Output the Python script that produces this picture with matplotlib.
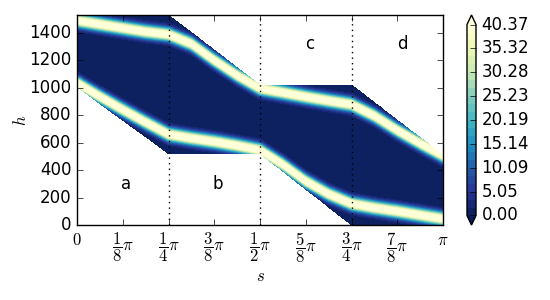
import numpy as np
import matplotlib
matplotlib.use("Agg")
import matplotlib.pyplot as plt

plt.style.use("classic")
plt.rcParams["figure.facecolor"] = "white"
plt.rcParams["savefig.facecolor"] = "white"

# segment corners (s in units of pi)
s_edge = [0, 0.25, 0.5, 0.75, 1.0]
h_low = [1005, 520, 520, 0, 0]
h_up = [1530, 1530, 1020, 1020, 510]

# band centre lines, s in units of pi/16
s_band = np.arange(17) / 16.0
band_up = [1490, 1462, 1435, 1408, 1388, 1320, 1200, 1090, 995,
           965, 934, 905, 878, 795, 690, 595, 505]
band_low = [1035, 935, 840, 748, 660, 632, 607, 578, 545,
            440, 319, 225, 155, 125, 100, 72, 45]
vmax = 40.371
amp = 45
width = 32

region_labels = ["a", "b", "c", "d"]
label_pos = [(0.134, 300), (0.385, 300), (0.637, 1320), (0.89, 1320)]

xticks = np.arange(9) / 8.0
xticklabels = [r"$0$", r"$\dfrac{1}{8}\pi$", r"$\dfrac{1}{4}\pi$", r"$\dfrac{3}{8}\pi$",
               r"$\dfrac{1}{2}\pi$", r"$\dfrac{5}{8}\pi$", r"$\dfrac{3}{4}\pi$",
               r"$\dfrac{7}{8}\pi$", r"$\pi$"]

# build the field
s = np.linspace(0, 1, 600)
h = np.linspace(0, 1530, 600)
S, H = np.meshgrid(s, h)
c_up = np.interp(S, s_band, band_up)
c_low = np.interp(S, s_band, band_low)
Z = amp * (np.exp(-0.5 * ((H - c_up) / width) ** 2)
           + np.exp(-0.5 * ((H - c_low) / width) ** 2))
lo = np.interp(S, s_edge, h_low)
up = np.interp(S, s_edge, h_up)
Z = np.ma.masked_where((H < lo) | (H > up), Z)

fig = plt.figure(figsize=(5.5, 3), dpi=100)
ax = fig.add_axes([77 / 550, 0.25, 366 / 550, 0.70])
levels = np.linspace(0, vmax, 25)
cf = ax.contourf(S * np.pi, H, Z, levels=levels, cmap="YlGnBu_r", extend="both")

for xv in [0.25, 0.5, 0.75]:
    ax.axvline(xv * np.pi, color="k", linestyle=":", linewidth=1)

for lab, (xs, yh) in zip(region_labels, label_pos):
    ax.text(xs * np.pi, yh, lab, ha="center", va="center", fontsize=12)

ax.set_xlim(0, np.pi)
ax.set_ylim(0, 1530)
ax.set_xticks(xticks * np.pi)
ax.set_xticklabels(xticklabels)
ax.set_yticks(np.arange(0, 1401, 200))
ax.set_xlabel(r"$s$")
ax.set_ylabel(r"$h$")
ax.xaxis.set_label_coords(0.5, -0.2)
ax.yaxis.set_label_coords(-0.128, 0.5)

cax = fig.add_axes([467 / 550, 0.25, 9 / 550, 0.70])
cb = fig.colorbar(cf, cax=cax, ticks=np.linspace(0, vmax, 9), format="%.2f")

fig.savefig("out.png", dpi=100)
